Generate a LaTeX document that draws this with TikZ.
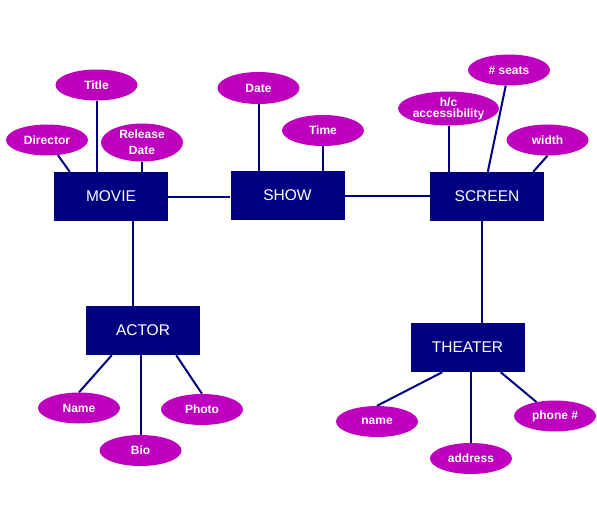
\documentclass[tikz,border=0pt]{standalone}
\usepackage{fontspec}
\setmainfont{Liberation Sans}
\usetikzlibrary{shapes.geometric,calc}
\definecolor{navy}{RGB}{0,0,128}
\definecolor{attrcol}{RGB}{190,0,190}
\begin{document}
\begin{tikzpicture}[x=1pt,y=-1pt,
  entity/.style={rectangle, fill=navy, draw=none, text=white,
    font=\fontsize{15.5}{17}\selectfont, inner sep=0pt,
    minimum width=114pt, minimum height=49pt},
  attrib/.style={ellipse, fill=attrcol, draw=none, text=white,
    font=\bfseries\fontsize{12}{14}\selectfont, inner sep=0pt,
    minimum width=82pt, minimum height=31pt, align=center},
  link/.style={draw=navy, line width=2pt}]
\useasboundingbox (0,0) rectangle (597,522);
% entities
\node[entity] (movie) at (111,196.5) {MOVIE};
\node[entity] (show) at (287.5,195.5) {SHOW};
\node[entity] (screen) at (487,196.5) {SCREEN};
\node[entity] (actor) at (143,330.5) {ACTOR};
\node[entity] (theater) at (467.5,347.5) {THEATER};
% attributes
\node[attrib] (director) at (47,140) {Director};
\node[attrib] (title) at (96.5,85) {Title};
\node[attrib, minimum height=38pt, font=\bfseries\fontsize{12}{16}\selectfont] (release) at (142,142.5) {Release\\Date};
\node[attrib, minimum height=32pt] (date) at (258.5,88) {Date};
\node[attrib] (time) at (323,130.5) {Time};
\node[attrib, minimum height=34pt, font=\bfseries\fontsize{12}{11}\selectfont] (hc) at (448.5,108.5) {h/c\\accessibility};
\node[attrib] (seats) at (509,70) {\# seats};
\node[attrib] (wid) at (547.5,140) {width};
\node[attrib] (aname) at (79,408) {Name};
\node[attrib] (bio) at (140.5,450.5) {Bio};
\node[attrib] (photo) at (202,409.5) {Photo};
\node[attrib] (tname) at (377,421.5) {name};
\node[attrib] (addr) at (471,458.5) {address};
\node[attrib] (phone) at (555,416) {phone \#};
% relationships
\draw[link] (movie.east) -- (movie.east -| show.west);
\draw[link] (show.east) -- (show.east -| screen.west);
\draw[link] ($(movie.south)+(22,0)$) coordinate (ma) -- (ma |- actor.north);
\draw[link] ($(screen.south)+(-5,0)$) coordinate (st) -- (st |- theater.north);
% attribute links
\draw[link] (director) -- ($(movie.north west)+(16,0)$);
\draw[link] (title) -- (title |- movie.north);
\draw[link] (release) -- (release |- movie.north);
\draw[link] (date) -- (date |- show.north);
\draw[link] (time) -- (time |- show.north);
\draw[link] (hc) -- (hc |- screen.north);
\draw[link] (seats) -- ($(screen.north west)+(58,0)$);
\draw[link] (wid.south) -- ($(screen.north east)+(-11,0)$);
\draw[link] ($(actor.south west)+(26,0)$) -- (aname.north);
\draw[link] (bio) -- (bio |- actor.south);
\draw[link] ($(actor.south east)+(-24,0)$) -- (photo.north);
\draw[link] ($(theater.south west)+(32,0)$) -- (tname.north);
\draw[link] (addr) -- (addr |- theater.south);
\draw[link] ($(theater.south east)+(-24,0)$) -- (phone.143);
\end{tikzpicture}
\end{document}
